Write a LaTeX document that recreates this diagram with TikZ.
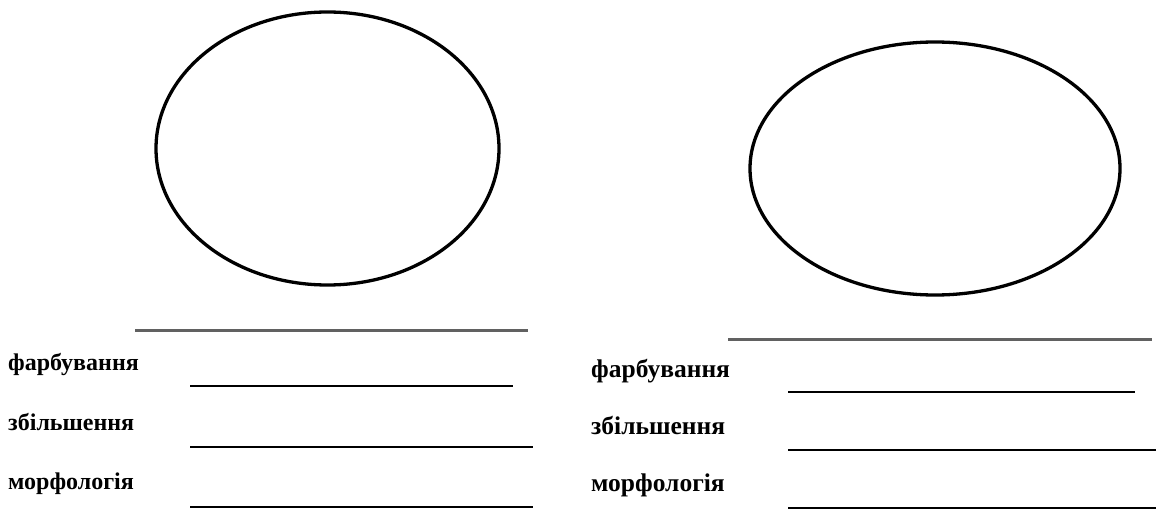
\documentclass[tikz,border=0pt]{standalone}
\usepackage{fontspec}
\setmainfont{Liberation Serif}
\begin{document}
\begin{tikzpicture}[x=1pt,y=-1pt,
  oval/.style={draw=black,line width=3.3pt},
  rule/.style={draw=black!62,line width=3pt},
  blank/.style={draw=black,line width=2.7pt},
  lbl/.style={anchor=base west,inner sep=0pt,font=\bfseries\fontsize{24}{28}\selectfont},
  lblr/.style={lbl,font=\bfseries\fontsize{25.5}{30}\selectfont}]
\useasboundingbox (0,0) rectangle (1166,513);
% ovals
\draw[oval] (327.5,148.5) ellipse [x radius=171.5, y radius=136.5];
\draw[oval] (935,168.5) ellipse [x radius=185, y radius=126.5];
% grey rules under ovals
\draw[rule] (135,330) -- (528,330);
\draw[rule] (728,339) -- (1152,339);
% left labels and blanks
\node[lbl] (l1) at (8,370) {фарбування};
\node[lbl] (l2) at (8,430) {збільшення};
\node[lbl] (l3) at (8,489) {морфологія};
\draw[blank] (190,386) -- (513,386);
\draw[blank] (190,447) -- (533,447);
\draw[blank] (190,507) -- (533,507);
% right labels and blanks
\node[lblr] (r1) at (591,377) {фарбування};
\node[lblr] (r2) at (591,434) {збільшення};
\node[lblr] (r3) at (591,491) {морфологія};
\draw[blank] (788,392) -- (1135,392);
\draw[blank] (788,450) -- (1156,450);
\draw[blank] (788,508) -- (1156,508);
\end{tikzpicture}
\end{document}
